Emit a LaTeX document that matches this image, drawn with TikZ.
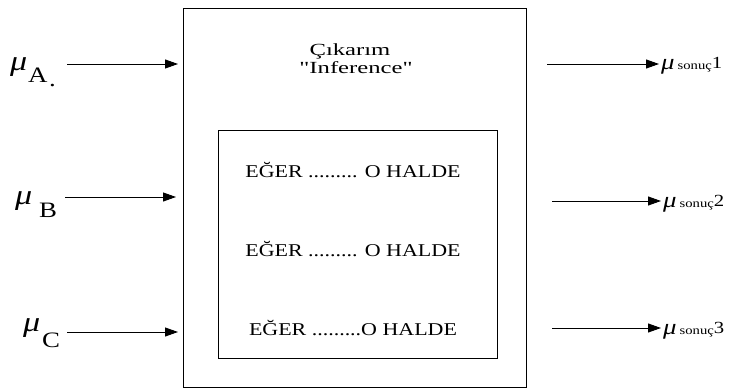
\documentclass[tikz,border=0pt]{standalone}
\usepackage{fontspec}
\setmainfont{Liberation Serif}[FakeStretch=1.22]
\newfontfamily\qfont{Liberation Serif}[FakeStretch=1.45]
\newfontfamily\wideserif{Liberation Serif}[FakeStretch=1.45]
\usetikzlibrary{arrows.meta}
\begin{document}
\begin{tikzpicture}[x=1pt,y=-1pt,
  boxline/.style={draw, line width=1.1pt, inner sep=0pt, anchor=north west},
  flow/.style={line width=0.9pt, -{Triangle[length=13pt,width=9pt]}},
  txt/.style={font=\fontsize{18}{18}\selectfont, inner sep=0pt, anchor=base},
  ttl/.style={font=\fontsize{17}{17}\wideserif, inner sep=0pt, anchor=base},
  mu/.style={font=\fontsize{28}{28}\selectfont\itshape, inner sep=0pt, anchor=base west},
  sub/.style={font=\fontsize{22}{22}\selectfont, inner sep=0pt, anchor=base west},
  outlab/.style={inner sep=0pt, anchor=base west}]
\useasboundingbox (0,0) rectangle (735,390);
\node[boxline, minimum width=343pt, minimum height=379pt] (outer) at (183,8) {};
\node[boxline, minimum width=279pt, minimum height=228pt] (inner) at (218,130) {};
\node[ttl] (title1) at (350,56) {Çıkarım};
\node[ttl] (title2) at (356,74) {{\qfont"}Inference{\qfont"}};
\node[txt] (r1) at (353,177) {EĞER ......... O HALDE};
\node[txt] (r2) at (353,256) {EĞER ......... O HALDE};
\node[txt] (r3) at (353,335) {EĞER .........O HALDE};
% inputs
\node[mu] (muA) at (10,71) {μ};
\node[sub] (sA) at (28,83) {A};
\node[sub] (dA) at (49,87) {.};
\node[mu] (muB) at (15,204) {μ};
\node[sub] (sB) at (39,217) {B};
\node[mu] (muC) at (23,331) {μ};
\node[sub] (sC) at (42,347) {C};
\coordinate (iA) at (67,64);
\coordinate (iB) at (65,197);
\coordinate (iC) at (67,332);
\draw[flow, shorten >=5pt] (iA) -- (iA -| outer.west);
\draw[flow, shorten >=7pt] (iB) -- (iB -| outer.west);
\draw[flow, shorten >=5pt] (iC) -- (iC -| outer.west);
% outputs
\node[outlab] (o1) at (661,70) {{\fontsize{22}{22}\selectfont\itshape μ}\hspace{3pt}{\fontsize{12}{12}\selectfont sonuç}\raisebox{1pt}{\fontsize{17}{17}\selectfont 1}};
\node[outlab] (o2) at (663,207) {{\fontsize{22}{22}\selectfont\itshape μ}\hspace{3pt}{\fontsize{12}{12}\selectfont sonuç}\raisebox{1pt}{\fontsize{17}{17}\selectfont 2}};
\node[outlab] (o3) at (663,334) {{\fontsize{22}{22}\selectfont\itshape μ}\hspace{3pt}{\fontsize{12}{12}\selectfont sonuç}\raisebox{1pt}{\fontsize{17}{17}\selectfont 3}};
\coordinate (q1) at (547,64);
\coordinate (q2) at (552,201);
\coordinate (q3) at (552,328);
\draw[flow, shorten >=2pt] (q1) -- (q1 -| o1.west);
\draw[flow, shorten >=2pt] (q2) -- (q2 -| o2.west);
\draw[flow, shorten >=2pt] (q3) -- (q3 -| o3.west);
\end{tikzpicture}
\end{document}
